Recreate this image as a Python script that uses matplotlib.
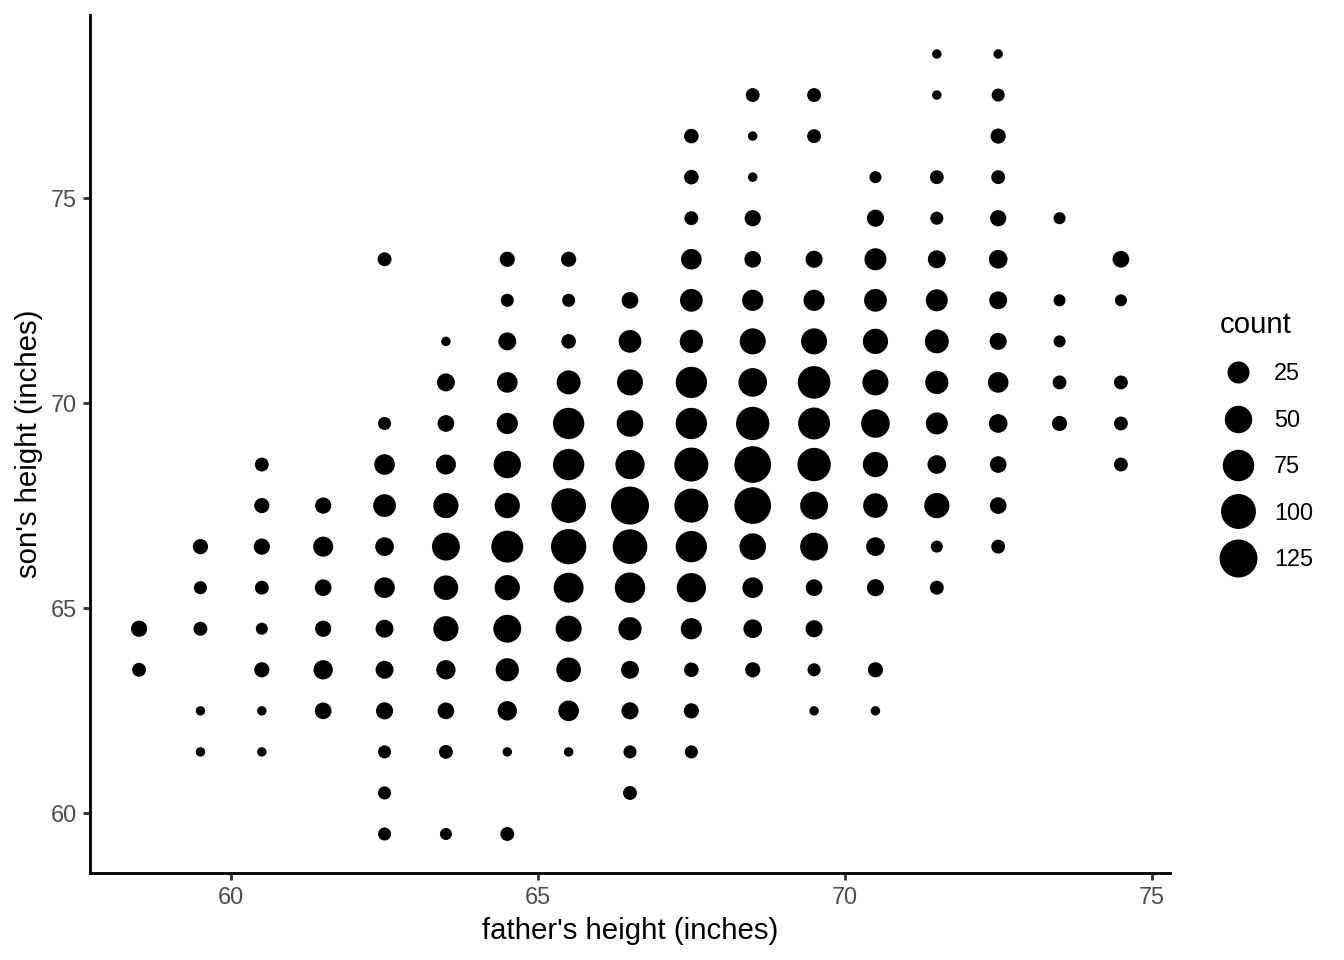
"""Count plot of father vs son heights (ggplot geom_count look)."""

import matplotlib

matplotlib.use("Agg")
import matplotlib.pyplot as plt
import numpy as np
from matplotlib.lines import Line2D

plt.rcParams["font.family"] = ["Liberation Sans", "DejaVu Sans"]

# father height columns and, for each, the son heights and counts (top to bottom)
father_cols = [58.5, 59.5, 60.5, 61.5, 62.5, 63.5, 64.5, 65.5, 66.5,
               67.5, 68.5, 69.5, 70.5, 71.5, 72.5, 73.5, 74.5]
son_cols = [
    [64.5, 63.5],
    [66.5, 65.5, 64.5, 62.5, 61.5],
    [68.5, 67.5, 66.5, 65.5, 64.5, 63.5, 62.5, 61.5],
    [67.5, 66.5, 65.5, 64.5, 63.5, 62.5],
    [73.5, 69.5, 68.5, 67.5, 66.5, 65.5, 64.5, 63.5, 62.5, 61.5, 60.5, 59.5],
    [71.5, 70.5, 69.5, 68.5, 67.5, 66.5, 65.5, 64.5, 63.5, 62.5, 61.5, 59.5],
    [73.5, 72.5, 71.5, 70.5, 69.5, 68.5, 67.5, 66.5, 65.5, 64.5, 63.5, 62.5, 61.5, 59.5],
    [73.5, 72.5, 71.5, 70.5, 69.5, 68.5, 67.5, 66.5, 65.5, 64.5, 63.5, 62.5, 61.5],
    [72.5, 71.5, 70.5, 69.5, 68.5, 67.5, 66.5, 65.5, 64.5, 63.5, 62.5, 61.5, 60.5],
    [76.5, 75.5, 74.5, 73.5, 72.5, 71.5, 70.5, 69.5, 68.5, 67.5, 66.5, 65.5, 64.5, 63.5, 62.5, 61.5],
    [77.5, 76.5, 75.5, 74.5, 73.5, 72.5, 71.5, 70.5, 69.5, 68.5, 67.5, 66.5, 65.5, 64.5, 63.5],
    [77.5, 76.5, 73.5, 72.5, 71.5, 70.5, 69.5, 68.5, 67.5, 66.5, 65.5, 64.5, 63.5, 62.5],
    [75.5, 74.5, 73.5, 72.5, 71.5, 70.5, 69.5, 68.5, 67.5, 66.5, 65.5, 63.5, 62.5],
    [78.5, 77.5, 75.5, 74.5, 73.5, 72.5, 71.5, 70.5, 69.5, 68.5, 67.5, 66.5, 65.5],
    [78.5, 77.5, 76.5, 75.5, 74.5, 73.5, 72.5, 71.5, 70.5, 69.5, 68.5, 67.5, 66.5],
    [74.5, 72.5, 71.5, 70.5, 69.5],
    [73.5, 72.5, 70.5, 69.5, 68.5],
]
count_cols = [
    [8, 4],
    [6, 3, 4, 1, 1],
    [4, 6, 8, 4, 2, 6, 1, 1],
    [8, 18, 9, 8, 16, 9],
    [4, 3, 20, 28, 14, 20, 12, 12, 10, 3, 3, 3],
    [1, 12, 9, 18, 39, 53, 36, 39, 16, 9, 4, 2],
    [6, 3, 12, 20, 22, 50, 39, 78, 39, 53, 30, 16, 1, 4],
    [6, 3, 5, 33, 74, 74, 98, 103, 65, 43, 36, 20, 1],
    [9, 28, 43, 46, 61, 125, 98, 68, 30, 12, 10, 3, 4],
    [5, 5, 4, 20, 28, 30, 74, 74, 93, 93, 74, 61, 22, 5, 6, 3],
    [4, 1, 1, 8, 9, 22, 43, 57, 88, 114, 114, 46, 20, 14, 6],
    [4, 4, 10, 22, 43, 83, 78, 88, 53, 53, 9, 10, 3, 1],
    [2, 10, 25, 28, 39, 43, 57, 39, 36, 14, 10, 6, 1],
    [1, 1, 4, 3, 12, 25, 33, 30, 25, 14, 39, 2, 4],
    [1, 3, 6, 4, 8, 14, 12, 10, 20, 14, 9, 9, 4],
    [2, 2, 2, 4, 6],
    [9, 2, 4, 4, 4],
]
legend_breaks = [25, 50, 75, 100, 125]
x_ticks = [60, 65, 70, 75]
y_ticks = [60, 65, 70, 75]

DPI = 192


def _marker_area(n, nmin, nmax):
    # ggplot scale_size: area-proportional, range 1..6 mm
    size_mm = 1 + 5 * np.sqrt((np.asarray(n, float) - nmin) / (nmax - nmin))
    diameter_px = 3.75 + 5.7 * size_mm
    diameter_pt = diameter_px * 72 / DPI
    return diameter_pt ** 2


def _expand(lo, hi, mult=0.05):
    pad = (hi - lo) * mult
    return lo - pad, hi + pad


father = np.concatenate([[f] * len(s) for f, s in zip(father_cols, son_cols)])
son = np.concatenate(son_cols)
count = np.concatenate(count_cols)
nmin, nmax = count.min(), count.max()

fig = plt.figure(figsize=(7, 5), dpi=DPI)
ax = fig.add_axes([90 / 1344, 1 - 873 / 960, 1080 / 1344, 858 / 960])

ax.scatter(father, son, s=_marker_area(count, nmin, nmax), color="black",
           linewidths=0, zorder=3)

ax.set_xlim(*_expand(father.min(), father.max()))
ax.set_ylim(*_expand(son.min(), son.max()))
ax.set_xticks(x_ticks)
ax.set_yticks(y_ticks)

for side in ("top", "right"):
    ax.spines[side].set_visible(False)
for side in ("left", "bottom"):
    ax.spines[side].set_linewidth(1.07)
    ax.spines[side].set_color("black")
ax.tick_params(axis="both", length=2.75, width=1.07, color="#333333",
               labelcolor="#4d4d4d", labelsize=8.8, pad=2.2)

ax.set_xlabel("father's height (inches)", fontsize=11, labelpad=2.75)
ax.set_ylabel("son's height (inches)", fontsize=11, labelpad=2.75)

handles = [
    Line2D([], [], linestyle="none", marker="o", color="black", markeredgewidth=0,
           markersize=np.sqrt(_marker_area(b, nmin, nmax)))
    for b in legend_breaks
]
fig.legend(handles, [str(b) for b in legend_breaks], title="count",
           loc="center left", bbox_to_anchor=(1199 / 1344, 1 - 441 / 960),
           frameon=False, fontsize=8.8, title_fontsize=11, labelspacing=1.0,
           handlelength=1.5, handletextpad=0.8, alignment="left")

fig.savefig("out.png", dpi=DPI)
